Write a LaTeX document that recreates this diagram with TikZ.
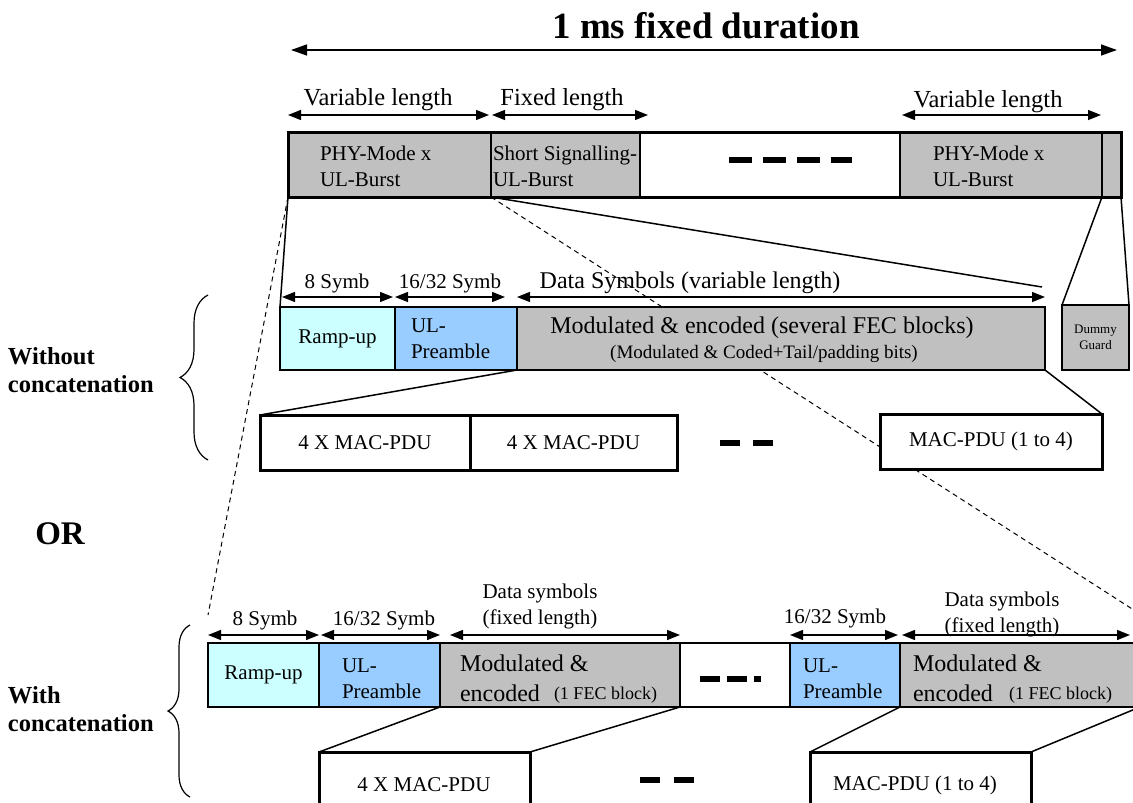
\documentclass[tikz,border=0pt]{standalone}
\usepackage{fontspec}
\setmainfont{Liberation Serif}
\usetikzlibrary{arrows.meta,decorations.pathreplacing,calc}
\pgfdeclarelayer{bg}
\pgfsetlayers{bg,main}
\definecolor{boxgray}{HTML}{C0C0C0}
\definecolor{rampcyan}{HTML}{CCFFFF}
\definecolor{preblue}{HTML}{99CCFF}
\newcommand{\rbox}[6]{\node[#6, anchor=north west, minimum width={(#4)-(#2)}, minimum height={(#5)-(#3)}] (#1) at (#2,#3) {};}
\newcommand{\dimline}[4]{\coordinate (#1L) at (#2,#4); \coordinate (#1R) at (#3,#4); \draw[dimarrow] (#1L) -- (#1R);}
\begin{document}
\begin{tikzpicture}[x=1pt,y=-1pt,
  base/.style={inner sep=0pt, outer sep=0pt, draw=black, line width=1.6pt},
  gbox/.style={base, fill=boxgray},
  cbox/.style={base, fill=rampcyan},
  bbox/.style={base, fill=preblue},
  wbox/.style={base, fill=white},
  macbox/.style={base, fill=white, line width=3pt},
  txt/.style={inner sep=0pt, outer sep=0pt, align=left, font=\fontsize{21}{26}\selectfont},
  lentxt/.style={inner sep=0pt, outer sep=0pt, font=\fontsize{24.5}{28}\selectfont},
  bigtxt/.style={inner sep=0pt, outer sep=0pt, font=\fontsize{24}{28}\selectfont},
  smalltxt/.style={inner sep=0pt, outer sep=0pt, font=\fontsize{18}{22}\selectfont},
  sidetxt/.style={inner sep=0pt, outer sep=0pt, align=left, font=\bfseries\fontsize{24.5}{28}\selectfont},
  dimarrow/.style={{Triangle[length=13pt,width=10pt]}-{Triangle[length=13pt,width=10pt]}, line width=1.4pt},
  conn/.style={line width=1.5pt},
  dconn/.style={line width=1pt, dash pattern=on 5pt off 4pt},
  dashbar/.style={line width=5.5pt},
]
\useasboundingbox (0,0) rectangle (1133,803);
\clip (0,0) rectangle (1133,803);

% title
\node[inner sep=0pt, font=\bfseries\fontsize{37}{40}\selectfont] (title) at (706,26) {1 ms fixed duration};
\coordinate (tl) at (291,50); \coordinate (tr) at (1117,50);
\draw[line width=1.4pt, {Triangle[length=16pt,width=11pt]}-{Triangle[length=16pt,width=11pt]}] (tl) -- (tr);

% top labels
\node[lentxt] (vl1) at (378,100) {Variable length};
\node[lentxt] (fl) at (562,100) {Fixed length};
\node[lentxt] (vl2) at (988,102) {Variable length};
\dimline{av}{288}{489}{115}
\dimline{af}{492}{648}{115}
\dimline{aw}{902}{1101}{115}

% top frame
\rbox{phy1}{288}{132}{491}{197}{gbox}
\rbox{short}{491}{132}{640}{197}{gbox}
\rbox{gap1}{640}{132}{900}{197}{wbox}
\rbox{phy2}{900}{132}{1102}{197}{gbox}
\rbox{tail}{1102}{132}{1121}{197}{gbox}
\rbox{frame}{288}{132}{1121}{197}{base, line width=3pt}
\node[txt, anchor=west] (phy1t) at (320,166) {PHY-Mode x\\UL-Burst};
\node[txt, anchor=west] (shortt) at (493,166) {Short Signalling-\\UL-Burst};
\node[txt, anchor=west] (phy2t) at (933,166) {PHY-Mode x\\UL-Burst};
\draw[dashbar, dash pattern=on 23pt off 11pt] (729,160) -- (852,160);

% middle row (without concatenation)
\node[txt] (s8a) at (337,283) {8 Symb};
\node[txt] (s16a) at (450,283) {16/32 Symb};
\node[bigtxt] (dsa) at (690,283) {Data Symbols (variable length)};
\dimline{m1}{282}{393}{297}
\dimline{m2}{395}{505}{297}
\dimline{m3}{517}{1045}{297}

\rbox{ramp}{280}{307}{395}{370}{cbox}
\rbox{pre}{395}{307}{517}{370}{bbox}
\rbox{mod}{517}{307}{1045}{370}{gbox}
\rbox{dummy}{1062}{305}{1129}{370}{gbox}
\node[txt] (rampt) at (ramp.center) {Ramp-up};
\node[txt, anchor=west] (pret) at (411,339) {UL-\\Preamble};
\node[bigtxt] (modt) at (762,328) {Modulated \& encoded (several FEC blocks)};
\node[smalltxt, font=\fontsize{19}{22}\selectfont] (mods) at (764,354) {(Modulated \& Coded+Tail/padding bits)};
\node[inner sep=0pt, align=center, font=\fontsize{13}{16}\selectfont] (dummyt) at (dummy.center) {Dummy\\Guard};

\rbox{mac1}{260}{415}{470}{470}{macbox}
\rbox{mac2}{470}{415}{677}{470}{macbox}
\rbox{mac3}{880}{414}{1102}{469}{macbox}
\node[txt] (mac1t) at (mac1.center) {4 X MAC-PDU};
\node[txt] (mac2t) at (mac2.center) {4 X MAC-PDU};
\node[txt] (mac3t) at (mac3.center) {MAC-PDU (1 to 4)};
\draw[dashbar, dash pattern=on 20pt off 13pt] (720,443) -- (773,443);

% bottom row (with concatenation)
\node[txt] (s8b) at (265,620) {8 Symb};
\node[txt] (s16b) at (384,620) {16/32 Symb};
\node[txt, align=center] (dsb) at (540,606) {Data symbols\\(fixed length)};
\node[txt] (s16c) at (835,618) {16/32 Symb};
\node[txt, align=center] (dsc) at (1002,614) {Data symbols\\(fixed length)};
\dimline{b1}{208}{319}{635}
\dimline{b2}{321}{440}{635}
\dimline{b3}{450}{680}{635}
\dimline{b4}{790}{898}{635}
\dimline{b5}{902}{1130}{635}

\rbox{ramp2}{208}{643}{319}{707}{cbox}
\rbox{pre2}{319}{643}{440}{707}{bbox}
\rbox{mod2}{440}{643}{680}{707}{gbox}
\rbox{gap2}{680}{643}{790}{707}{wbox}
\rbox{pre3}{790}{643}{900}{707}{bbox}
\rbox{mod3}{900}{643}{1140}{707}{gbox}
\node[txt] (ramp2t) at (ramp2.center) {Ramp-up};
\node[txt, anchor=west] (pre2t) at (342,679) {UL-\\Preamble};
\node[txt, anchor=west] (pre3t) at (803,679) {UL-\\Preamble};
\node[bigtxt, anchor=west] (mod2a) at (460,663) {Modulated \&};
\node[bigtxt, anchor=west] (mod2b) at (460,693) {encoded};
\node[smalltxt, anchor=west] (mod2c) at (554,695) {(1 FEC block)};
\node[bigtxt, anchor=west] (mod3a) at (913,663) {Modulated \&};
\node[bigtxt, anchor=west] (mod3b) at (913,693) {encoded};
\node[smalltxt, anchor=west] (mod3c) at (1009,695) {(1 FEC block)};
\draw[dashbar, dash pattern=on 20pt off 7pt] (700,679) -- (761,679);

\rbox{mac4}{319}{752}{530}{830}{macbox}
\rbox{mac5}{810}{752}{1031}{830}{macbox}
\node[txt] (mac4t) at (424,785) {4 X MAC-PDU};
\node[txt] (mac5t) at (915,785) {MAC-PDU (1 to 4)};
\draw[dashbar, dash pattern=on 20pt off 14pt] (640,780) -- (694,780);

% side labels and braces
\node[sidetxt, anchor=west] (wo) at (8,370) {Without\\concatenation};
\node[inner sep=0pt, font=\bfseries\fontsize{33}{36}\selectfont] (or) at (60,534) {OR};
\node[sidetxt, anchor=west] (wi) at (8,709) {With\\concatenation};
\coordinate (br1b) at (208,460); \coordinate (br1t) at (208,295);
\coordinate (br2b) at (190,797); \coordinate (br2t) at (190,625);
\draw[line width=1.2pt, decorate, decoration={brace, amplitude=28pt}] (br1b) -- (br1t);
\draw[line width=1.2pt, decorate, decoration={brace, amplitude=22pt}] (br2b) -- (br2t);

% connectors (behind boxes)
\coordinate (d1) at (208,615);
\coordinate (d2) at (1140,614);
\coordinate (s1) at (1042,287);
\begin{pgfonlayer}{bg}
\draw[conn] (phy1.south west) -- (ramp.north west);
\draw[dconn] (phy1.south west) -- (d1);
\draw[conn] (phy1.south east) -- (s1);
\draw[dconn] (phy1.south east) -- (d2);
\draw[conn] (tail.south west) -- (dummy.north west);
\draw[conn] (tail.south east) -- (dummy.north east);
\draw[conn] (pre.south east) -- (mac1.north west);
\draw[conn] (mod.south east) -- (mac3.north east);
\draw[conn] (pre2.south east) -- (mac4.north west);
\draw[conn] (mod2.south east) -- (mac4.north east);
\draw[conn] (pre3.south east) -- (mac5.north west);
\draw[conn] (mod3.south east) -- (mac5.north east);
\end{pgfonlayer}
\end{tikzpicture}
\end{document}
